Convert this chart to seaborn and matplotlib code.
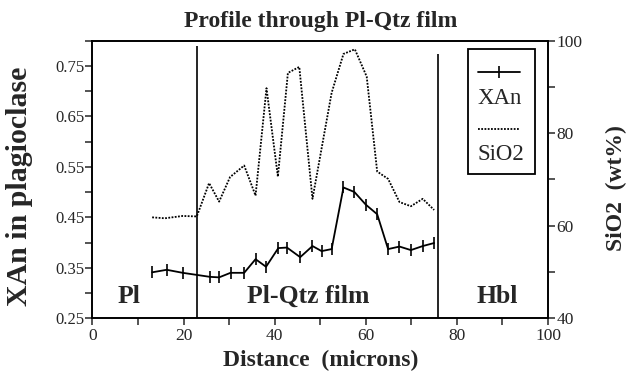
import matplotlib
matplotlib.use("Agg")
import matplotlib.pyplot as plt
import seaborn as sns
import pandas as pd
from matplotlib.patches import Rectangle
from matplotlib.lines import Line2D

# ---- data ----
xan_x = [13.1, 16.3, 19.8, 25.8, 27.8, 30.3, 33.3, 35.8, 38.1, 40.8, 42.7, 45.6,
         48.3, 50.3, 52.5, 55.1, 57.5, 60.0, 62.5, 64.9, 67.4, 69.9, 72.5, 75.0]
xan_y = [0.341, 0.346, 0.340, 0.332, 0.331, 0.340, 0.340, 0.367, 0.352, 0.389, 0.390, 0.371,
         0.393, 0.383, 0.387, 0.509, 0.500, 0.475, 0.456, 0.387, 0.392, 0.385, 0.393, 0.399]
sio2_x = [13.1, 15.9, 19.8, 22.9, 25.6, 27.8, 30.2, 33.3, 35.8, 38.2, 40.7, 42.9,
          45.4, 48.3, 52.5, 55.1, 57.6, 60.2, 62.5, 64.9, 67.4, 69.9, 72.5, 75.0]
sio2_y = [61.8, 61.6, 62.1, 62.0, 69.2, 65.2, 70.5, 73.0, 66.5, 89.7, 70.6, 93.0,
          94.3, 65.8, 88.7, 97.1, 98.1, 92.2, 71.7, 70.1, 65.1, 64.2, 65.8, 63.4]
boundaries = [22.9, 75.9]
boundary_tops = [0.789, 0.773]
regions = ["Pl", "Pl-Qtz film", "Hbl"]
region_x = [8.0, 47.3, 88.8]
left_ticks = [0.25, 0.35, 0.45, 0.55, 0.65, 0.75]
right_ticks = [40, 60, 80, 100]
x_ticks = [0, 20, 40, 60, 80, 100]

sns.set_style("ticks")
plt.rcParams["font.family"] = ["Liberation Serif", "DejaVu Serif"]
plt.rcParams["axes.linewidth"] = 1.2

fig = plt.figure(figsize=(6.27, 3.74), dpi=100)
ax = fig.add_axes([0.1475, 0.149, 0.7265, 0.7427])
ax2 = ax.twinx()

df_xan = pd.DataFrame({"Distance": xan_x, "XAn": xan_y})
df_si = pd.DataFrame({"Distance": sio2_x, "SiO2": sio2_y})

sns.lineplot(data=df_xan, x="Distance", y="XAn", ax=ax, color="black", lw=1.3,
             marker="|", markersize=8, markeredgewidth=1.2, markeredgecolor="black",
             estimator=None, sort=False)
sns.lineplot(data=df_si, x="Distance", y="SiO2", ax=ax2, color="black", lw=1.3,
             linestyle=(0, (1, 0.8)), estimator=None, sort=False)

for bx, bt in zip(boundaries, boundary_tops):
    ax.vlines(bx, 0.25, bt, color="black", lw=1.2)

for name, rx in zip(regions, region_x):
    ax.text(rx, 0.280, name, ha="center", va="baseline", fontsize=18.5,
            fontweight="bold")

ax.set_xlim(0, 100)
ax.set_ylim(0.25, 0.80)
ax2.set_ylim(40, 100)

ax.set_xticks(x_ticks)
ax.set_xticks([10, 30, 50, 70, 90], minor=True)
ax.set_yticks(left_ticks)
ax.set_yticklabels([f"{t:.2f}" for t in left_ticks])
ax.set_yticks([0.30, 0.40, 0.50, 0.60, 0.70, 0.80], minor=True)
ax2.set_yticks(right_ticks)
ax2.set_yticks([50, 70, 90], minor=True)

ax.tick_params(axis="x", which="both", direction="out", length=5, width=1.1,
               labelsize=12.5, pad=2)
ax.tick_params(axis="y", which="both", direction="out", length=5, width=1.1,
               labelsize=12, pad=1)
ax2.tick_params(axis="y", which="both", direction="out", length=5, width=1.1,
                labelsize=12.5, pad=1)

for a in (ax, ax2):
    for s in a.spines.values():
        s.set_visible(True)
        s.set_linewidth(1.2)
        s.set_color("black")

ax.set_xlabel("Distance  (microns)", fontsize=17, fontweight="bold", labelpad=4)
ax.set_ylabel("XAn in plagioclase", fontsize=21.5, fontweight="bold")
ax2.set_ylabel("SiO2  (wt%)", fontsize=17, fontweight="bold")
ax.yaxis.set_label_coords(-0.131, 0.476)
ax2.yaxis.set_label_coords(1.126, 0.469)
ax.set_title("Profile through Pl-Qtz film", fontsize=17, fontweight="bold", pad=10)

# custom legend: handle above label
tr = ax2.transAxes
ax2.add_patch(Rectangle((0.825, 0.518), 0.146, 0.450, transform=tr, fill=False,
                        lw=1.3, ec="black", zorder=5))
ax2.add_line(Line2D([0.846, 0.938], [0.888, 0.888], transform=tr, color="black", lw=1.3,
                    zorder=6))
ax2.add_line(Line2D([0.892], [0.888], transform=tr, color="black", marker="|",
                    markersize=8, markeredgewidth=1.2, zorder=6))
ax2.text(0.846, 0.793, "XAn", transform=tr, fontsize=16.5, va="center", ha="left", zorder=6)
ax2.add_line(Line2D([0.846, 0.937], [0.681, 0.681], transform=tr, color="black", lw=1.3,
                    linestyle=(0, (1, 0.8)), zorder=6))
ax2.text(0.846, 0.588, "SiO2", transform=tr, fontsize=16.5, va="center", ha="left", zorder=6)

fig.savefig("out.png", dpi=100)
